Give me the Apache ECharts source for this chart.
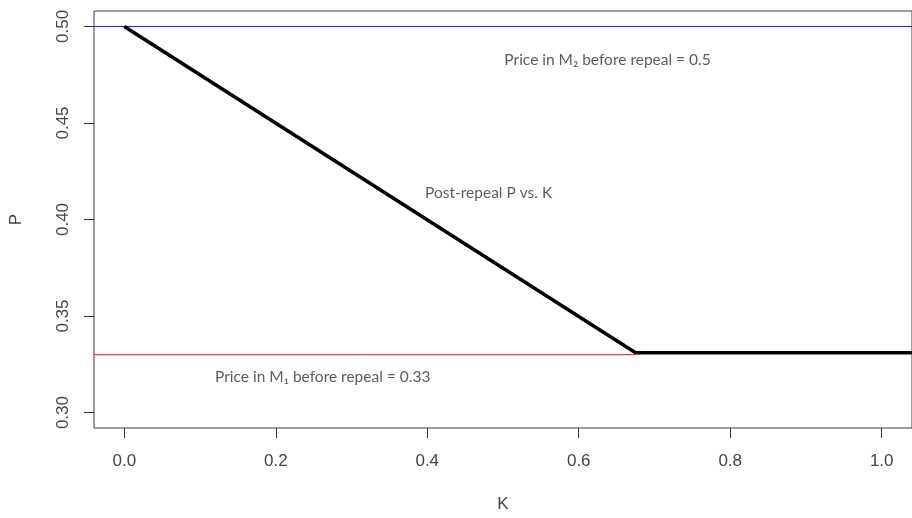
<!DOCTYPE html>
<html>
<head>
<meta charset="utf-8">
<script src="https://cdn.jsdelivr.net/npm/echarts@6/dist/echarts.min.js"></script>
<style>
html,body{margin:0;padding:0;background:#fff;}
#chart{width:912px;height:518px;}
</style>
</head>
<body>
<div id="chart"></div>
<script>
// Data
const xTicks = [0, 0.2, 0.4, 0.6, 0.8, 1.0];
const yTicks = [0.30, 0.35, 0.40, 0.45, 0.50];
const postRepealK = [0, 0.675, 1.04];
const postRepealP = [0.5, 0.331, 0.331];
const priceM2 = 0.5;
const priceM1 = 0.33;
const priceM1End = 0.675;
const annotations = [
  {k: 0.638, p: 0.4828, text: 'Price in M\u2082 before repeal = 0.5'},
  {k: 0.481, p: 0.4138, text: 'Post-repeal P vs. K'},
  {k: 0.262, p: 0.3182, text: 'Price in M\u2081 before repeal = 0.33'}
];
const xRange = [-0.04, 1.04];
const yRange = [0.292, 0.508];

const chart = echarts.init(document.getElementById('chart'), null, {renderer: 'canvas'});
const font = 'Liberation Sans, Arial, sans-serif';
const annFont = 'Lato, Noto Sans, sans-serif';

chart.setOption({
  animation: false,
  backgroundColor: '#ffffff',
  grid: [
    {left: 94, top: 11, width: 827, height: 422, show: true, borderColor: '#3a3a3a', borderWidth: 1, containLabel: false}
  ],
  xAxis: [
    {type: 'value', min: xRange[0], max: xRange[1], position: 'bottom',
     axisLine: {show: false, onZero: false}, splitLine: {show: false},
     axisTick: {show: true, length: 10, customValues: xTicks, lineStyle: {color: '#333', width: 1}},
     axisLabel: {margin: 25, customValues: xTicks, color: '#444', fontFamily: font, fontSize: 17, formatter: v => v.toFixed(1)},
     name: 'K', nameLocation: 'middle', nameGap: 68,
     nameTextStyle: {color: '#444', fontFamily: font, fontSize: 17}}
  ],
  yAxis: [
    {type: 'value', min: yRange[0], max: yRange[1], position: 'left',
     axisLine: {show: false, onZero: false}, splitLine: {show: false},
     axisTick: {show: true, length: 10, customValues: yTicks, lineStyle: {color: '#333', width: 1}},
     axisLabel: {margin: 22, rotate: 90, customValues: yTicks, color: '#444', fontFamily: font, fontSize: 17, formatter: v => v.toFixed(2)},
     name: 'P', nameLocation: 'middle', nameGap: 69,
     nameTextStyle: {color: '#444', fontFamily: font, fontSize: 17}}
  ],
  series: [
    {type: 'line', symbol: 'none', silent: true,
     data: [[xRange[0], priceM2], [xRange[1], priceM2]],
     lineStyle: {color: '#2424a8', width: 1}},
    {type: 'line', symbol: 'none', silent: true,
     data: [[xRange[0], priceM1], [priceM1End, priceM1]],
     lineStyle: {color: '#d93333', width: 1}},
    {type: 'line', symbol: 'none', silent: true,
     data: postRepealK.map((k, i) => [k, postRepealP[i]]),
     lineStyle: {color: '#000', width: 3.6, join: 'miter'}},
    {type: 'scatter', symbolSize: 0, silent: true,
     data: annotations.map(a => ({value: [a.k, a.p], label: {formatter: a.text}})),
     label: {show: true, position: 'inside', color: '#333', fontFamily: annFont, fontSize: 15.5}}
  ]
});
</script>
</body>
</html>
